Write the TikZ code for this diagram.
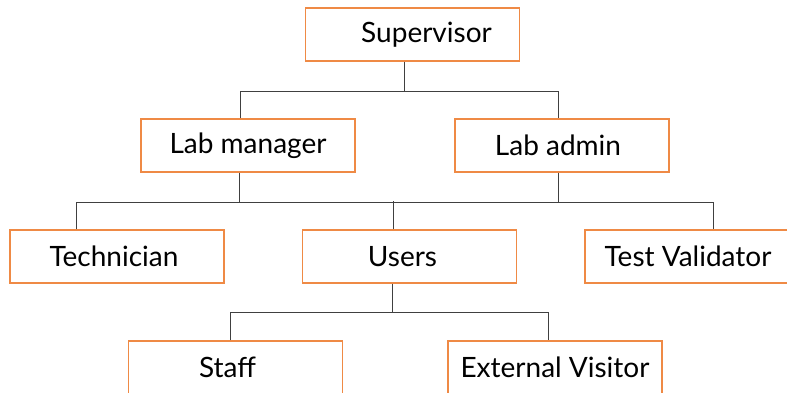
\documentclass[tikz,border=0pt]{standalone}
\usepackage{fontspec}
\setmainfont{Lato}
\usetikzlibrary{calc}
\definecolor{boxorange}{HTML}{EF8A45}
\definecolor{linkgray}{HTML}{404040}

\begin{document}
\begin{tikzpicture}[x=1pt, y=-1pt,
    box/.style={draw=boxorange, line width=1.3pt, fill=white, minimum width=214pt,
        minimum height=53pt, inner sep=0pt, font=\fontsize{28}{32}\selectfont},
    link/.style={draw=linkgray, line width=0.9pt}]
    \useasboundingbox (0,0) rectangle (787,392);
    % boxes
    \node[box] (sup) at (412.5,34.5) {\hspace*{28pt}Supervisor};
    \node[box] (labman) at (248,145.5) {Lab manager};
    \node[box] (labadmin) at (562,145.5) {Lab admin\hspace*{8pt}};
    \node[box] (tech) at (117,256.5) {Technician\hspace*{6pt}};
    \node[box] (users) at (409.5,256.5) {Users\hspace*{14pt}};
    \node[box] (testval) at (692,256.5) {Test Validator\hspace*{8pt}};
    \node[box] (staff) at (235.5,367.5) {Staff\hspace*{16pt}};
    \node[box] (extvis) at (555,367.5) {External Visitor};
    % supervisor to managers
    \draw[link] ([xshift=-8pt]sup.south) -- ++(0,30) coordinate (j1);
    \draw[link] ([xshift=-8pt]labman.north) |- (j1) -| ([xshift=-4pt]labadmin.north);
    % managers to staff level
    \draw[link] ([xshift=-9pt]labman.south) -- ++(0,30) coordinate (j2);
    \draw[link] ([xshift=-4pt]labadmin.south) -- ++(0,30);
    \draw[link] ([xshift=-41pt]tech.north) |- (j2) -| ([xshift=21pt]testval.north);
    \draw[link] ([xshift=-16pt]users.north) -- ++(0,-28);
    % users to groups
    \draw[link] ([xshift=-17pt]users.south) -- ++(0,29) coordinate (j3);
    \draw[link] ([xshift=-5pt]staff.north) |- (j3) -| ([xshift=-7pt]extvis.north);
\end{tikzpicture}
\end{document}
